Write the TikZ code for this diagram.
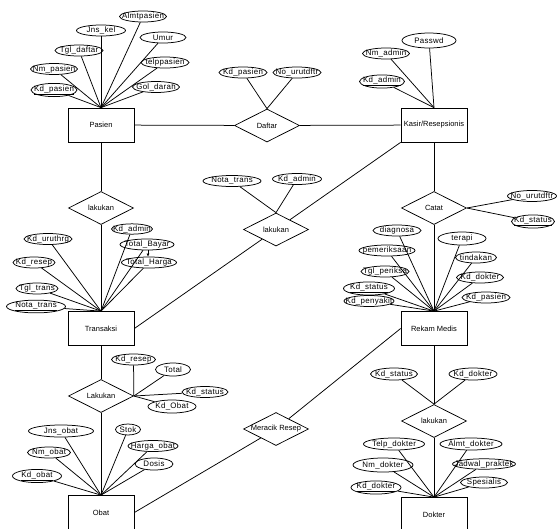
\documentclass[tikz,border=0pt]{standalone}
\usepackage{fontspec}
\setmainfont{Liberation Sans}
\newfontfamily\attrfont[LetterSpace=4]{Liberation Sans}
\usetikzlibrary{shapes.geometric,arrows.meta}
\tikzset{
  base/.style={draw, line width=0.75pt, inner sep=0pt, font=\fontsize{7.5}{8}\selectfont,
    execute at begin node={\hbox to 0pt\bgroup\hss}, execute at end node={\hss\egroup}},
  attr/.style={base, ellipse, minimum width=#1, minimum height=11, font=\attrfont\fontsize{7.9}{9}\selectfont},
  ent/.style={base, rectangle, minimum width=66, minimum height=34},
  rel/.style={base, diamond, minimum width=65, minimum height=33},
  conn/.style={line width=0.75pt}
}
\begin{document}
\begin{tikzpicture}[x=1pt,y=-1pt]
\useasboundingbox (0,0) rectangle (557,528);
% entities
\node[ent] (pasien) at (101,125) {Pasien};
\node[ent] (kasir) at (434,125) {Kasir/Resepsionis};
\node[ent] (transaksi) at (101,328.5) {Transaksi};
\node[ent] (rm) at (434,328.5) {Rekam Medis};
\node[ent] (obat) at (101,512.5) {Obat};
\node[ent] (dokter) at (434,514.5) {Dokter};
% relations
\node[rel] (daftar) at (267,125.5) {Daftar};
\node[rel] (lk1) at (101,208) {lakukan};
\node[rel] (lk2) at (276,229.5) {lakukan};
\node[rel] (catat) at (434,208) {Catat};
\node[rel] (lk3) at (101,396) {Lakukan};
\node[rel] (mr) at (276,429) {Meracik Resep};
\node[rel] (lk4) at (434,421) {lakukan};
% main connectors
\draw[conn] (pasien) -- (daftar) -- (kasir);
\draw[conn] (pasien) -- (lk1) -- (transaksi);
\draw[conn] (transaksi) -- (lk3) -- (obat);
\draw[conn] (kasir) -- (catat) -- (rm) -- (lk4) -- (dokter);
\draw[conn] (transaksi.east) -- (lk2) -- (kasir.south west);
\draw[conn] (obat.east) -- (mr) -- (rm.west);
% Pasien attributes
\node[attr=46] (pKd) at (54,90) {\underline{Kd\_pasien}};
\node[attr=47] (pNm) at (54,69) {Nm\_pasien};
\node[attr=48] (pTgl) at (79,50.5) {Tgl\_daftar};
\node[attr=49] (pJns) at (101,30.5) {Jns\_kel};
\node[attr=47] (pAlm) at (143,16.5) {Almtpasien};
\node[attr=46] (pUmur) at (163,37.5) {Umur};
\node[attr=48] (pTelp) at (165,62.5) {telppasien};
\node[attr=47] (pGol) at (156,87) {Gol\_darah};
\foreach \a in {pKd,pNm,pTgl,pJns,pAlm,pUmur,pTelp,pGol} \draw[conn] (\a) -- (pasien.north);
% Daftar attributes
\node[attr=48] (dKd) at (243,72.5) {Kd\_pasien};
\node[attr=48] (dNo) at (297,72.5) {No\_urutdftr};
\foreach \a in {dKd,dNo} \draw[conn] (\a) -- (daftar.north);
% Kasir attributes
\node[attr=54, minimum height=15] (kPass) at (429,40.5) {Passwd};
\node[attr=47] (kNm) at (386,53.5) {Nm\_admin};
\node[attr=45] (kKd) at (382,81.5) {\underline{Kd\_admin}};
\foreach \a in {kPass,kNm,kKd} \draw[conn] (\a) -- (kasir.north);
% Transaksi attributes
\node[attr=48] (tUrut) at (48,239) {Kd\_uruthrg};
\node[attr=42] (tResep) at (34,262.5) {Kd\_resep};
\node[attr=42] (tTgl) at (37,288.5) {Tgl\_trans};
\node[attr=59] (tNota) at (36,306.5) {\underline{Nota\_trans}};
\node[attr=41, minimum height=10] (tAdm) at (132,229) {Kd\_admin};
\node[attr=54] (tBayar) at (147,244.5) {Total\_Bayar};
\node[attr=55] (tHarga) at (149,262.5) {Total\_Harga};
\foreach \a in {tUrut,tResep,tTgl,tNota,tAdm,tBayar,tHarga} \draw[conn] (\a) -- (transaksi.north);
\draw[conn,-{Latex[length=3pt,width=3pt]}] (tBayar.south) ++(1,0) coordinate (tb) (tb) -- (tb |- tHarga.north);
% middle lakukan attributes
\node[attr=58] (mNota) at (232,181) {Nota\_trans};
\node[attr=49] (mAdm) at (297,179) {Kd\_admin};
\foreach \a in {mNota,mAdm} \draw[conn] (\a) -- (lk2.north);
% Catat attributes
\node[attr=49] (cNo) at (532,196) {No\_urutdftr};
\node[attr=43] (cKd) at (533,221.5) {\underline{Kd\_status}};
\foreach \a in {cNo,cKd} \draw[conn] (\a) -- (catat.east);
% Rekam Medis attributes
\node[attr=48] (rDiag) at (397,230.5) {diagnosa};
\node[attr=56] (rPem) at (387,250.5) {pemeriksaan};
\node[attr=48] (rTgl) at (385,271.5) {Tgl\_periksa};
\node[attr=51] (rStat) at (369,288.5) {\underline{Kd\_status}};
\node[attr=50] (rPeny) at (369,301) {Kd\_penyakit};
\node[attr=48, minimum height=13] (rTer) at (462,238.5) {terapi};
\node[attr=41] (rTin) at (476,257.5) {tindakan};
\node[attr=47] (rDok) at (480,277.5) {Kd\_dokter};
\node[attr=48] (rPas) at (486,297.5) {Kd\_pasien};
\foreach \a in {rDiag,rPem,rTgl,rStat,rPeny,rTer,rTin,rDok,rPas} \draw[conn] (\a) -- (rm.north);
% Lakukan (obat) attributes
\node[attr=44] (lResep) at (133.5,359.5) {Kd\_resep};
\node[attr=35, minimum height=13] (lTotal) at (173,369.5) {Total};
\node[attr=46] (lStat) at (205,392) {Kd\_status};
\node[attr=48, minimum height=13] (lObat) at (172,406.5) {Kd\_Obat};
\foreach \a in {lResep,lTotal,lStat,lObat} \draw[conn] (\a) -- (lk3.east);
% Obat attributes
\node[attr=65, minimum height=12] (oJns) at (61,431) {Jns\_obat};
\node[attr=43] (oNm) at (49,452.5) {Nm\_obat};
\node[attr=49, minimum height=12] (oKd) at (37,476) {\underline{Kd\_obat}};
\node[attr=25] (oStok) at (128,429.5) {Stok};
\node[attr=50] (oHarga) at (153,446) {Harga\_obat};
\node[attr=38, minimum height=12] (oDos) at (154,464) {Dosis};
\foreach \a in {oJns,oNm,oKd,oStok,oHarga,oDos} \draw[conn] (\a) -- (obat.north);
% Dokter lakukan attributes
\node[attr=47, minimum height=12] (qStat) at (394,374) {Kd\_status};
\node[attr=48, minimum height=12] (qDok) at (473,374) {Kd\_dokter};
\foreach \a in {qStat,qDok} \draw[conn] (\a) -- (lk4.north);
% Dokter attributes
\node[attr=61, minimum height=12] (dTelp) at (394,444) {Telp\_dokter};
\node[attr=60, minimum height=14] (dNm) at (383,465) {Nm\_dokter};
\node[attr=50, minimum height=12] (dKdd) at (376,487.5) {\underline{Kd\_dokter}};
\node[attr=62, minimum height=12] (dAlm) at (471,444) {Almt\_dokter};
\node[attr=63, minimum height=10] (dJad) at (484,464) {Jadwal\_praktek};
\node[attr=47] (dSpe) at (484,482.5) {Spesialis};
\foreach \a in {dTelp,dNm,dKdd,dAlm,dJad,dSpe} \draw[conn] (\a) -- (dokter.north);
\end{tikzpicture}
\end{document}
